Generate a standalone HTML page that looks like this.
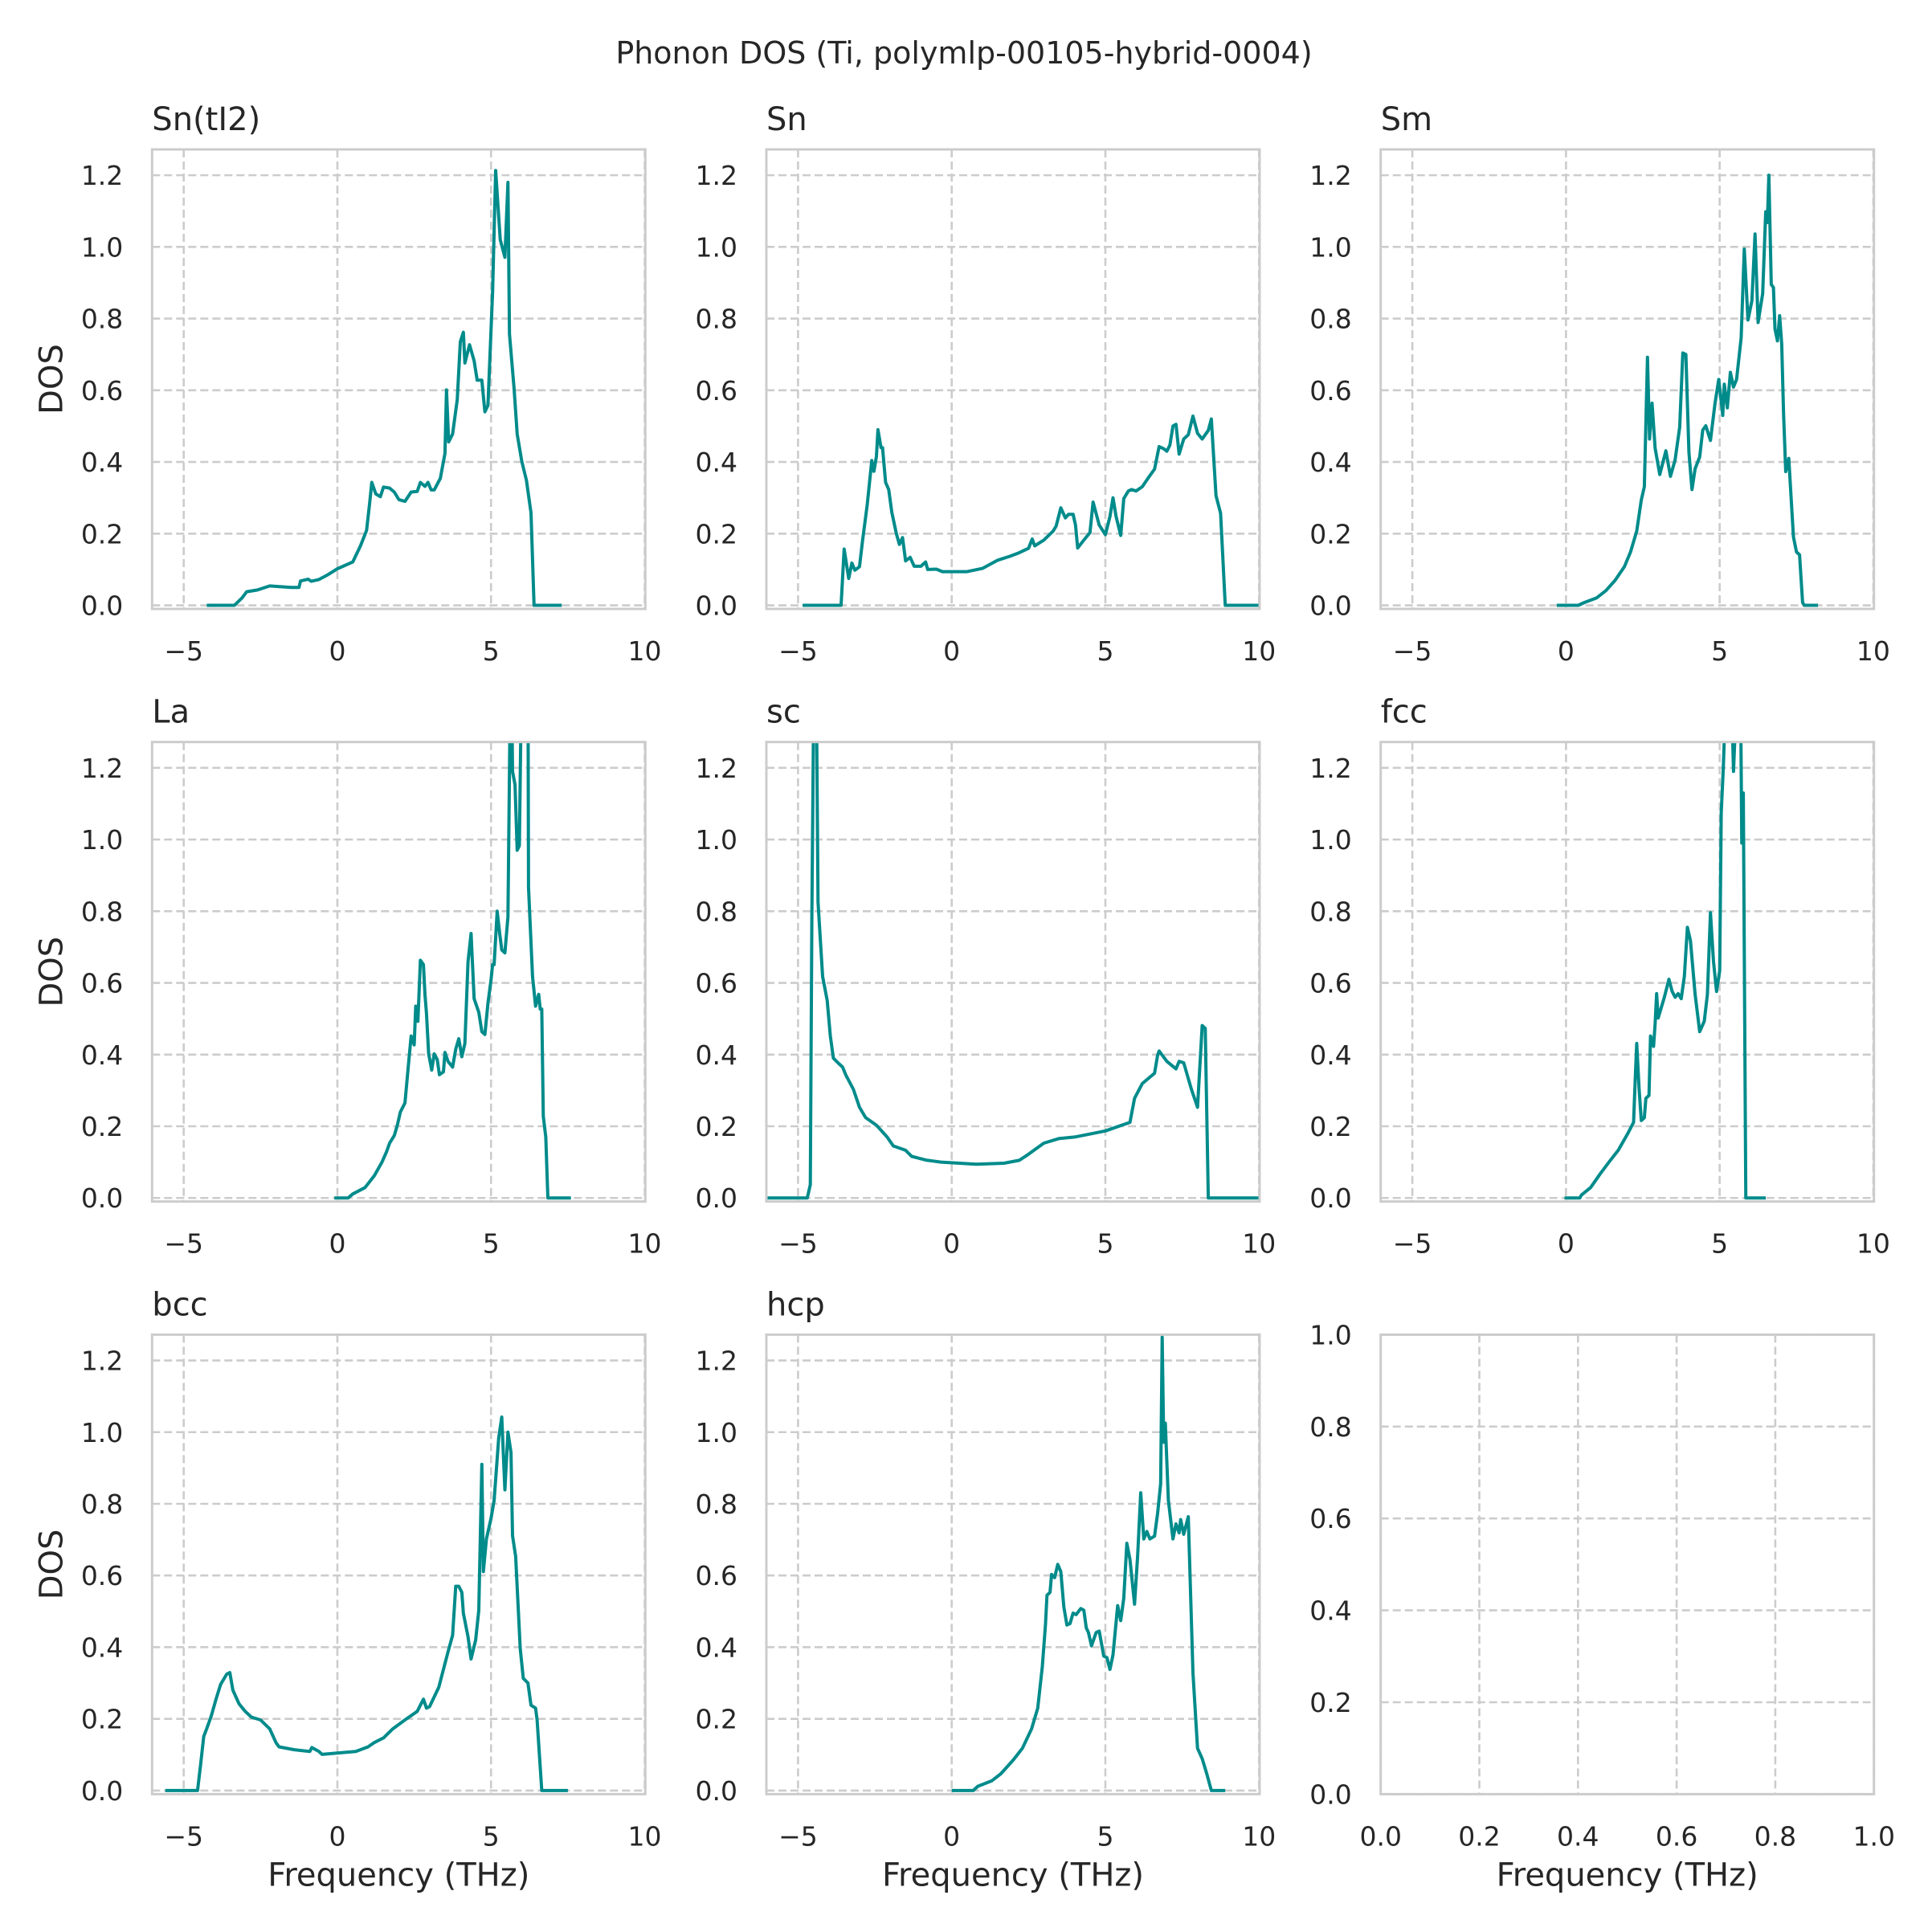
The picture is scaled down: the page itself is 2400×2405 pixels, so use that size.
<!DOCTYPE html>
<html><head><meta charset="utf-8">
<style>
html,body{margin:0;padding:0;background:#fff;}
svg text{font-family:"DejaVu Sans","Liberation Sans",sans-serif;fill:#262626;}
</style></head>
<body>
<svg id="fig" width="2400" height="2400" viewBox="0 0 2400 2400" xmlns="http://www.w3.org/2000/svg">
<rect width="2400" height="2400" fill="#fff"/>
<text x="1200" y="79" font-size="38" text-anchor="middle">Phonon DOS (Ti, polymlp-00105-hybrid-0004)</text>
</svg>
<script>
const panelTitles = ["Sn(tI2)","Sn","Sm","La","sc","fcc","bcc","hcp"];
const xTicks = [-5,0,5,10];
const yTicks = [0,0.2,0.4,0.6,0.8,1.0,1.2];
const yTickLabels = ["0.0","0.2","0.4","0.6","0.8","1.0","1.2"];
const emptyTicks = [0,0.2,0.4,0.6,0.8,1.0];
const emptyTickLabels = ["0.0","0.2","0.4","0.6","0.8","1.0"];

const sntI2X = [-4.25,-3.35,-3.1,-2.95,-2.6,-2.2,-1.5,-1.25,-1.2,-0.95,-0.85,-0.6,-0.3,0.0,0.5,0.75,0.95,1.05,1.12,1.25,1.4,1.5,1.7,1.85,2.0,2.2,2.4,2.6,2.7,2.85,2.95,3.05,3.15,3.35,3.5,3.55,3.62,3.75,3.9,4.0,4.1,4.15,4.3,4.45,4.55,4.7,4.8,4.9,5.05,5.15,5.3,5.45,5.55,5.6,5.75,5.85,6.0,6.15,6.3,6.4,7.3];
const sntI2Y = [0,0,0.021,0.038,0.043,0.054,0.05,0.05,0.068,0.073,0.067,0.072,0.086,0.102,0.121,0.166,0.209,0.284,0.343,0.311,0.303,0.33,0.327,0.316,0.295,0.29,0.316,0.318,0.343,0.332,0.343,0.322,0.322,0.354,0.424,0.601,0.456,0.478,0.574,0.735,0.762,0.676,0.727,0.682,0.628,0.628,0.54,0.558,0.875,1.213,1.02,0.971,1.18,0.757,0.606,0.478,0.402,0.349,0.258,0,0];

const snX = [-4.85,-3.6,-3.5,-3.35,-3.25,-3.15,-3.0,-2.9,-2.75,-2.6,-2.53,-2.45,-2.4,-2.3,-2.25,-2.15,-2.05,-1.95,-1.8,-1.7,-1.6,-1.5,-1.35,-1.22,-1.0,-0.85,-0.78,-0.5,-0.3,0.5,1.0,1.5,1.9,2.15,2.5,2.62,2.7,3.0,3.3,3.4,3.55,3.7,3.8,3.95,4.03,4.1,4.3,4.5,4.6,4.8,5.0,5.15,5.25,5.35,5.5,5.6,5.75,5.85,6.0,6.2,6.4,6.6,6.75,6.9,7.0,7.1,7.2,7.3,7.4,7.55,7.7,7.85,8.0,8.15,8.35,8.45,8.6,8.75,8.9,10.0];
const snY = [0,0,0.157,0.075,0.118,0.098,0.108,0.18,0.28,0.404,0.374,0.416,0.49,0.44,0.44,0.343,0.323,0.26,0.2,0.17,0.189,0.124,0.134,0.109,0.109,0.121,0.1,0.101,0.094,0.094,0.103,0.126,0.137,0.145,0.159,0.185,0.166,0.182,0.207,0.221,0.272,0.244,0.254,0.254,0.224,0.16,0.182,0.203,0.288,0.224,0.197,0.248,0.3,0.248,0.195,0.298,0.319,0.323,0.319,0.331,0.356,0.38,0.443,0.437,0.43,0.447,0.5,0.505,0.422,0.464,0.476,0.528,0.48,0.464,0.488,0.52,0.306,0.257,0,0];

const smX = [-0.3,0.4,0.6,1.0,1.3,1.6,1.9,2.1,2.3,2.45,2.55,2.65,2.72,2.8,2.9,3.05,3.25,3.4,3.55,3.7,3.8,3.9,4.0,4.1,4.2,4.35,4.45,4.55,4.7,4.85,4.97,5.1,5.15,5.25,5.35,5.45,5.55,5.7,5.8,5.92,6.05,6.15,6.25,6.4,6.5,6.55,6.6,6.68,6.75,6.8,6.88,6.95,7.02,7.08,7.15,7.25,7.4,7.5,7.6,7.7,7.75,8.2];
const smY = [0,0,0.008,0.021,0.041,0.07,0.108,0.149,0.207,0.294,0.331,0.692,0.464,0.564,0.439,0.365,0.431,0.36,0.406,0.497,0.704,0.7,0.427,0.323,0.381,0.414,0.489,0.501,0.46,0.564,0.63,0.53,0.617,0.551,0.65,0.609,0.63,0.746,0.994,0.796,0.85,1.036,0.789,0.87,1.098,1.068,1.2,0.895,0.887,0.771,0.738,0.808,0.729,0.535,0.373,0.41,0.191,0.149,0.141,0.008,0,0];

const laX = [-0.1,0.35,0.5,0.9,1.2,1.45,1.6,1.7,1.85,1.95,2.05,2.2,2.3,2.4,2.5,2.55,2.62,2.7,2.8,2.85,2.9,2.97,3.07,3.15,3.25,3.32,3.45,3.5,3.6,3.75,3.85,3.95,4.05,4.15,4.25,4.35,4.45,4.6,4.7,4.8,4.9,5.0,5.05,5.1,5.2,5.28,5.35,5.45,5.55,5.65,5.7,5.78,5.85,5.92,6.0,6.2,6.22,6.35,6.45,6.55,6.6,6.65,6.7,6.78,6.85,7.6];
const laY = [0,0,0.011,0.029,0.062,0.1,0.129,0.153,0.174,0.203,0.24,0.265,0.361,0.452,0.427,0.535,0.493,0.663,0.651,0.568,0.514,0.402,0.357,0.402,0.386,0.344,0.352,0.406,0.381,0.365,0.415,0.444,0.394,0.431,0.659,0.738,0.556,0.518,0.464,0.456,0.543,0.61,0.651,0.651,0.8,0.738,0.692,0.684,0.784,1.6,1.19,1.153,0.97,0.983,1.5,1.5,0.867,0.618,0.535,0.568,0.527,0.527,0.228,0.17,0,0];

const scX = [-6.0,-4.7,-4.6,-4.55,-4.47,-4.42,-4.35,-4.2,-4.05,-3.95,-3.85,-3.7,-3.55,-3.45,-3.2,-3.0,-2.8,-2.45,-2.1,-1.9,-1.5,-1.3,-0.8,-0.7,-0.35,0.8,1.7,2.2,2.5,3.0,3.5,4.0,5.0,5.8,5.95,6.2,6.6,6.7,6.75,7.0,7.3,7.4,7.55,7.8,8.0,8.15,8.25,8.35,10.0];
const scY = [0,0,0.037,0.78,1.6,1.6,0.825,0.618,0.551,0.452,0.39,0.377,0.365,0.344,0.303,0.253,0.224,0.203,0.17,0.145,0.133,0.116,0.105,0.104,0.1,0.094,0.097,0.105,0.122,0.153,0.166,0.17,0.187,0.211,0.278,0.319,0.348,0.398,0.41,0.381,0.36,0.381,0.377,0.303,0.253,0.481,0.473,0,0];

const fccX = [-0.05,0.45,0.5,0.8,1.1,1.4,1.7,2.0,2.2,2.25,2.3,2.38,2.45,2.55,2.6,2.7,2.75,2.85,2.9,2.95,3.0,3.2,3.35,3.45,3.55,3.65,3.75,3.85,3.95,4.05,4.2,4.35,4.5,4.6,4.7,4.8,4.9,5.0,5.05,5.12,5.18,5.3,5.4,5.45,5.55,5.68,5.72,5.77,5.85,6.5];
const fccY = [0,0,0.008,0.029,0.066,0.1,0.133,0.178,0.211,0.328,0.431,0.303,0.216,0.224,0.278,0.286,0.452,0.423,0.485,0.57,0.502,0.56,0.61,0.577,0.56,0.57,0.556,0.618,0.755,0.718,0.568,0.464,0.493,0.568,0.796,0.659,0.576,0.634,1.074,1.2,1.35,1.3,1.35,1.19,1.4,1.4,0.99,1.13,0,0];

const bccX = [-5.6,-4.55,-4.45,-4.35,-4.25,-4.1,-3.95,-3.8,-3.6,-3.5,-3.4,-3.2,-3.0,-2.8,-2.5,-2.2,-2.0,-1.9,-1.4,-0.9,-0.83,-0.6,-0.5,0.6,1.0,1.2,1.5,1.8,2.2,2.6,2.8,2.9,3.0,3.3,3.6,3.75,3.85,3.95,4.05,4.1,4.25,4.35,4.5,4.6,4.7,4.75,4.85,5.0,5.1,5.25,5.35,5.45,5.55,5.65,5.7,5.8,5.95,6.05,6.2,6.3,6.45,6.5,6.65,7.5];
const bccY = [0,0,0.072,0.151,0.173,0.209,0.255,0.296,0.325,0.329,0.28,0.242,0.221,0.205,0.197,0.172,0.134,0.122,0.114,0.109,0.12,0.109,0.101,0.109,0.122,0.134,0.147,0.172,0.197,0.221,0.255,0.23,0.234,0.288,0.387,0.433,0.57,0.57,0.553,0.495,0.429,0.367,0.42,0.503,0.91,0.611,0.702,0.76,0.81,0.984,1.042,0.839,1.0,0.943,0.711,0.653,0.396,0.313,0.3,0.238,0.23,0.197,0,0];

const hcpX = [0.0,0.7,0.85,1.3,1.6,2.0,2.3,2.6,2.8,2.95,3.05,3.1,3.2,3.25,3.35,3.45,3.55,3.65,3.75,3.85,3.95,4.05,4.2,4.3,4.38,4.45,4.55,4.7,4.8,4.95,5.05,5.15,5.25,5.4,5.5,5.6,5.7,5.8,5.95,6.05,6.15,6.25,6.35,6.45,6.6,6.7,6.8,6.85,6.9,6.95,7.05,7.2,7.3,7.4,7.45,7.55,7.7,7.85,8.0,8.15,8.3,8.45,8.9];
const hcpY = [0,0,0.012,0.027,0.047,0.085,0.118,0.172,0.23,0.346,0.462,0.545,0.553,0.603,0.594,0.631,0.611,0.512,0.462,0.466,0.495,0.491,0.508,0.503,0.454,0.441,0.404,0.441,0.445,0.375,0.371,0.338,0.379,0.516,0.474,0.537,0.69,0.645,0.52,0.653,0.831,0.702,0.723,0.702,0.71,0.773,0.856,1.265,0.972,1.025,0.81,0.702,0.744,0.719,0.756,0.715,0.764,0.329,0.118,0.089,0.047,0,0];

const seriesX = [sntI2X,snX,smX,laX,scX,fccX,bccX,hcpX];
const seriesY = [sntI2Y,snY,smY,laY,scY,fccY,bccY,hcpY];

const NS = "http://www.w3.org/2000/svg";
const svg = document.getElementById("fig");
const PW = 614, PH = 572, LEFT0 = 189.3, COLSTEP = 764.7, TOP0 = 186, ROWSTEP = 737.7;
const XMIN = -6.03, XMAX = 10.02, YMIN = -0.01, YMAX = 1.272;
function mk(tag, attrs, parent){ const e=document.createElementNS(NS,tag); for(const k in attrs) e.setAttribute(k,attrs[k]); (parent||svg).appendChild(e); return e; }

function drawPanel(i, r, c){
  const L = LEFT0 + c*COLSTEP, T = TOP0 + r*ROWSTEP;
  const empty = (i === 8);
  const x0 = empty?0:XMIN, x1 = empty?1:XMAX, y0 = empty?0:YMIN, y1 = empty?1:YMAX;
  const sx = v => L + (v - x0)/(x1 - x0)*PW;
  const sy = v => T + PH - (v - y0)/(y1 - y0)*PH;
  const g = mk("g", {});
  
  
  const cid = "clip"+i;
  const cp = mk("clipPath", {id:cid}, g);
  mk("rect", {x:L, y:T, width:PW, height:PH}, cp);
  const xt = empty ? emptyTicks : xTicks;
  const xl = empty ? emptyTickLabels : xTicks.map(v => v<0 ? "\u2212"+Math.abs(v) : String(v));
  const yt = empty ? emptyTicks : yTicks;
  const yl = empty ? emptyTickLabels : yTickLabels;
  xt.forEach((v,k) => {
    const gl = mk("line", {x1:sx(v), x2:sx(v), y1:T, y2:T+PH, stroke:"#cccccc", "stroke-width":2.6, "stroke-dasharray":"10,5"}, g);
    
    
    const t = mk("text", {x:sx(v), y:T+PH+64, "font-size":33, "text-anchor":"middle"}, g);
    t.textContent = xl[k];
    
    
  });
  yt.forEach((v,k) => {
    const gl = mk("line", {x1:L, x2:L+PW, y1:sy(v), y2:sy(v), stroke:"#cccccc", "stroke-width":2.6, "stroke-dasharray":"10,5"}, g);
    
    
    const t = mk("text", {x:L-36, y:sy(v)+12, "font-size":33, "text-anchor":"end"}, g);
    t.textContent = yl[k];
    
    
  });
  if(!empty){
    const xs = seriesX[i], ys = seriesY[i];
    const d = xs.map((v,k) => (k?"L":"M") + sx(v).toFixed(1) + "," + sy(ys[k]).toFixed(1)).join(" ");
    const p = mk("path", {d:d, fill:"none", stroke:"#008b8b", "stroke-width":4, "stroke-linejoin":"round", "clip-path":"url(#"+cid+")"}, g);
    
    
    const tt = mk("text", {x:L, y:T-24, "font-size":40}, g);
    tt.textContent = panelTitles[i];
    
    
  }
  const fr = mk("rect", {x:L, y:T, width:PW, height:PH, fill:"none", stroke:"#cccccc", "stroke-width":3}, g);
  
  
  if(c === 0){
    const yl2 = mk("text", {x:0, y:0, "font-size":40, "text-anchor":"middle", transform:"translate("+(L-112)+","+(T+PH/2)+") rotate(-90)"}, g);
    yl2.textContent = "DOS";
    
    
  }
  if(r === 2){
    const xl2 = mk("text", {x:L+PW/2, y:T+PH+114, "font-size":40, "text-anchor":"middle"}, g);
    xl2.textContent = "Frequency (THz)";
    
    
  }
}
for(let i=0;i<9;i++) drawPanel(i, Math.floor(i/3), i%3);
</script>
</body></html>
